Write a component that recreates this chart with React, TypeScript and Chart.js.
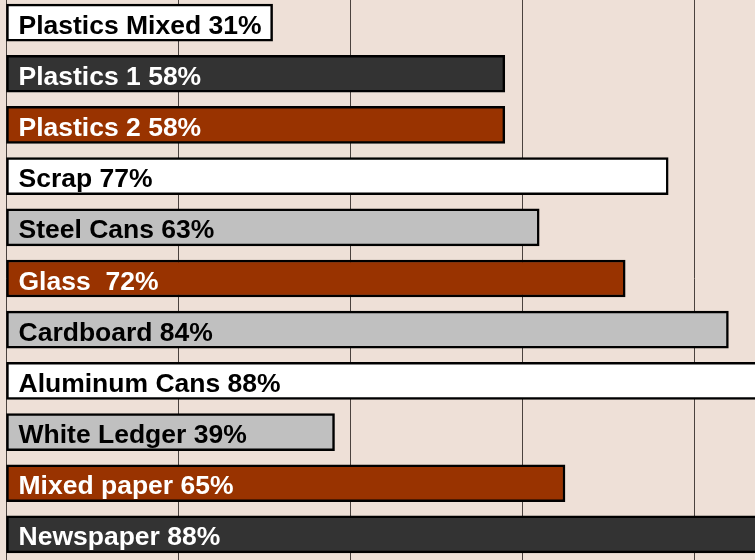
import React, { useEffect, useRef } from "react";
import { Chart, registerables } from "chart.js";

Chart.register(...registerables);

const categories = [
  "Plastics Mixed 31%",
  "Plastics 1 58%",
  "Plastics 2 58%",
  "Scrap 77%",
  "Steel Cans 63%",
  "Glass  72%",
  "Cardboard 84%",
  "Aluminum Cans 88%",
  "White Ledger 39%",
  "Mixed paper 65%",
  "Newspaper 88%",
];
const values = [31, 58, 58, 77, 62, 72, 84, 88, 38.2, 65, 88];
const barColors = [
  "#FFFFFF",
  "#333333",
  "#993300",
  "#FFFFFF",
  "#C0C0C0",
  "#993300",
  "#C0C0C0",
  "#FFFFFF",
  "#C0C0C0",
  "#993300",
  "#333333",
];
const textColors = [
  "#000000",
  "#FFFFFF",
  "#FFFFFF",
  "#000000",
  "#000000",
  "#FFFFFF",
  "#000000",
  "#000000",
  "#000000",
  "#FFFFFF",
  "#FFFFFF",
];

const BG = "#EEE0D7";
const PAD = 10;
const CANVAS_LEFT = -4;
const CANVAS_TOP = -13;
const CANVAS_W = 880;
const CANVAS_H = 583;

const labelPlugin = {
  id: "barLabels",
  afterDatasetsDraw(chart: any) {
    const ctx = chart.ctx;
    const meta = chart.getDatasetMeta(0);
    ctx.save();
    ctx.font = 'bold 26.5px "Liberation Sans", Arial, sans-serif';
    ctx.textAlign = "left";
    ctx.textBaseline = "alphabetic";
    meta.data.forEach((bar: any, i: number) => {
      ctx.fillStyle = textColors[i];
      ctx.fillText(categories[i], bar.base + 12, bar.y + 11);
    });
    ctx.restore();
  },
};

export default function App() {
  const ref = useRef<HTMLCanvasElement | null>(null);
  useEffect(() => {
    if (!ref.current) return;
    const chart = new Chart(ref.current, {
      type: "bar",
      data: {
        labels: categories,
        datasets: [
          {
            data: values,
            backgroundColor: barColors,
            borderColor: "#000000",
            borderWidth: 2.5,
            borderSkipped: false,
            barThickness: 37,
          },
        ],
      },
      options: {
        indexAxis: "y",
        responsive: false,
        animation: false,
        layout: { padding: PAD },
        plugins: {
          legend: { display: false },
          tooltip: { enabled: false },
        },
        scales: {
          x: {
            min: 0,
            max: 100,
            display: true,
            ticks: { display: false, stepSize: 20 },
            grid: {
              display: true,
              drawTicks: false,
              color: "#4A423E",
              lineWidth: 1,
            },
            border: { display: false },
          },
          y: {
            display: false,
          },
        },
      },
      plugins: [labelPlugin],
    });
    return () => chart.destroy();
  }, []);

  return (
    <div
      style={{
        position: "fixed",
        left: 0,
        top: 0,
        width: 755,
        height: 560,
        overflow: "hidden",
        background: BG,
      }}
    >
      <canvas
        ref={ref}
        width={CANVAS_W}
        height={CANVAS_H}
        style={{
          position: "absolute",
          left: CANVAS_LEFT,
          top: CANVAS_TOP,
          width: CANVAS_W,
          height: CANVAS_H,
        }}
      />
    </div>
  );
}
